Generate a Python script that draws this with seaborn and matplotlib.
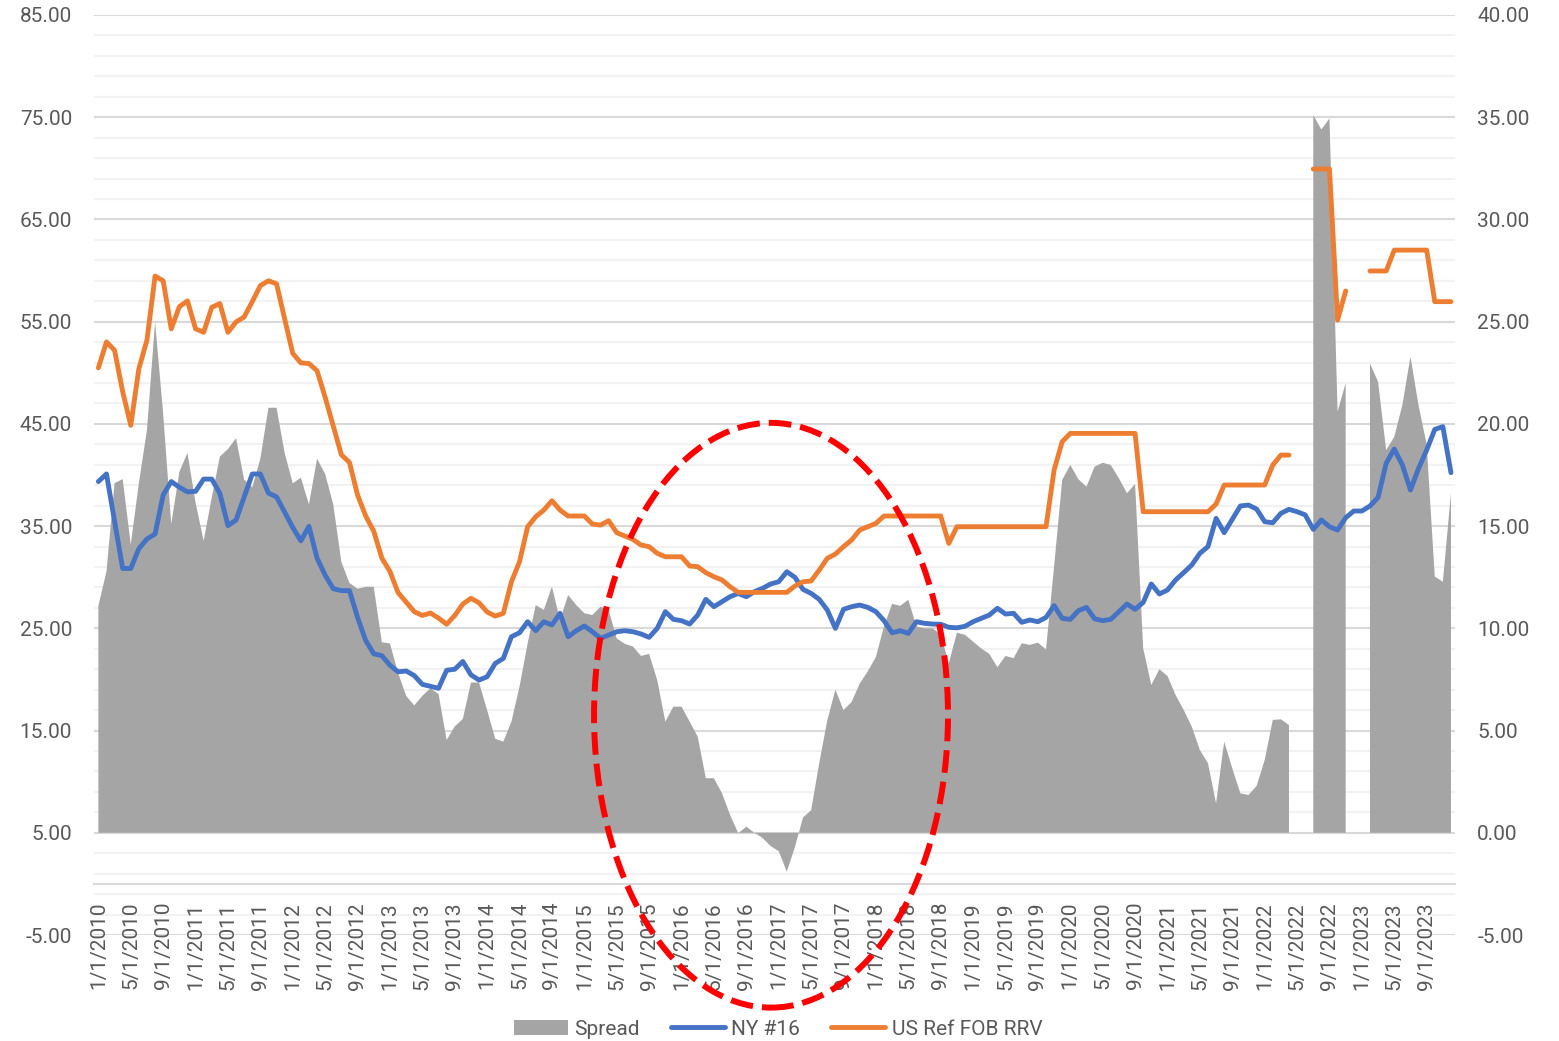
import numpy as np
import pandas as pd
import matplotlib
matplotlib.use('Agg')
import matplotlib.pyplot as plt
from matplotlib.patches import Ellipse, Patch
from matplotlib.lines import Line2D
from matplotlib.ticker import MultipleLocator, FormatStrFormatter
import seaborn as sns

# monthly categories, 1/1/2010 .. 12/1/2023
months = pd.date_range('2010-01-01', periods=168, freq='MS')
month_labels = [f'{d.month}/1/{d.year}' for d in months]

nan = np.nan

# Spread (right axis)
spread = [11.1, 12.78, 17.1, 17.3, 14.1, 17.1, 19.7, 25.0, 20.5, 15.1,
          17.65, 18.58, 16.15, 14.28, 16.4, 18.4, 18.77, 19.3, 17.27, 16.9,
          18.3, 20.79, 20.79, 18.58, 17.09, 17.37, 16.06, 18.3, 17.55, 16.06,
          13.25, 12.22, 11.94, 12.03, 12.03, 9.32, 9.26, 7.82, 6.7, 6.23,
          6.7, 7.07, 6.79, 4.54, 5.2, 5.57, 7.35, 7.35, 6.0, 4.6,
          4.46, 5.44, 7.15, 9.27, 11.14, 10.9, 12.04, 10.41, 11.63, 11.14,
          10.74, 10.65, 11.06, 10.9, 9.51, 9.24, 9.11, 8.65, 8.75, 7.47,
          5.44, 6.17, 6.17, 5.44, 4.7, 2.67, 2.67, 1.93, 0.87, -0.02,
          0.3, 0.0, -0.25, -0.65, -0.9, -1.9, -0.7, 0.75, 1.1, 3.4,
          5.5, 7.0, 6.0, 6.4, 7.3, 7.9, 8.6, 10.1, 11.2, 11.1,
          11.4, 10.1, 10.0, 10.0, 9.7, 8.29, 9.79, 9.68, 9.35, 9.02,
          8.75, 8.1, 8.65, 8.54, 9.27, 9.19, 9.3, 8.97, 13.02, 17.26,
          17.99, 17.29, 16.93, 17.91, 18.1, 17.99, 17.34, 16.61, 17.06, 9.02,
          7.23, 8.0, 7.67, 6.74, 6.01, 5.19, 4.05, 3.4, 1.44, 4.46,
          3.15, 1.93, 1.85, 2.29, 3.56, 5.52, 5.55, 5.27, nan, nan,
          35.1, 34.4, 34.94, 20.6, 22.0, nan, nan, 22.96, 22.06, 18.72,
          19.37, 20.92, 23.29, 20.9, 19.0, 12.53, 12.28, 16.61]

# NY #16 (left axis)
ny16 = [39.36, 40.1, 35.5, 30.86, 30.86, 32.8, 33.74, 34.23, 38.05, 39.36,
        38.8, 38.35, 38.4, 39.6, 39.6, 38.2, 35.05, 35.6, 37.86, 40.1,
        40.1, 38.23, 37.86, 36.36, 34.87, 33.56, 34.98, 31.87, 30.2, 28.88,
        28.69, 28.69, 26.07, 23.82, 22.51, 22.33, 21.39, 20.75, 20.83, 20.38,
        19.52, 19.33, 19.14, 20.9, 21.0, 21.76, 20.45, 19.94, 20.27, 21.57,
        22.06, 24.18, 24.57, 25.65, 24.77, 25.65, 25.33, 26.47, 24.18, 24.77,
        25.23, 24.67, 24.02, 24.35, 24.67, 24.77, 24.67, 24.45, 24.12, 25.0,
        26.63, 25.88, 25.75, 25.42, 26.3, 27.84, 27.12, 27.61, 28.1, 28.42,
        28.1, 28.59, 28.91, 29.34, 29.56, 30.54, 29.99, 28.81, 28.42, 27.84,
        26.79, 25.0, 26.86, 27.12, 27.28, 27.05, 26.63, 25.75, 24.57, 24.77,
        24.51, 25.65, 25.49, 25.42, 25.4, 25.1, 25.05, 25.2, 25.65, 25.98,
        26.3, 26.96, 26.4, 26.47, 25.59, 25.82, 25.65, 26.07, 27.22, 25.98,
        25.88, 26.73, 27.05, 25.94, 25.75, 25.88, 26.63, 27.38, 26.86, 27.54,
        29.34, 28.36, 28.75, 29.73, 30.45, 31.2, 32.34, 33.0, 35.76, 34.36,
        35.66, 36.97, 37.06, 36.67, 35.43, 35.33, 36.25, 36.64, 36.41, 36.1,
        34.68, 35.6, 34.94, 34.62, 35.82, 36.48, 36.48, 36.97, 37.81, 41.14,
        42.54, 40.98, 38.53, 40.65, 42.44, 44.46, 44.73, 40.23]

# US Ref FOB RRV (left axis)
us_ref = [50.48, 53.02, 52.2, 48.16, 44.86, 50.4, 53.2, 59.46, 59.0, 54.3,
          56.47, 57.03, 54.3, 53.96, 56.4, 56.77, 53.96, 54.97, 55.46, 56.96,
          58.53, 59.0, 58.7, 55.27, 51.9, 50.97, 50.9, 50.2, 47.6, 44.79,
          41.98, 41.23, 38.05, 36.0, 34.5, 31.87, 30.56, 28.5, 27.57, 26.63,
          26.26, 26.5, 26.0, 25.4, 26.26, 27.38, 27.94, 27.5, 26.6, 26.2,
          26.47, 29.56, 31.52, 34.94, 35.92, 36.57, 37.49, 36.57, 35.99, 35.99,
          35.99, 35.2, 35.1, 35.53, 34.36, 34.03, 33.7, 33.15, 32.99, 32.34,
          32.0, 32.0, 32.0, 31.1, 31.03, 30.45, 30.05, 29.73, 29.07, 28.52,
          28.52, 28.52, 28.52, 28.52, 28.52, 28.52, 29.14, 29.56, 29.63, 30.7,
          31.85, 32.27, 32.99, 33.64, 34.62, 34.94, 35.27, 35.99, 35.99, 35.99,
          35.99, 35.99, 35.99, 35.99, 35.99, 33.31, 34.94, 34.94, 34.94, 34.94,
          34.94, 34.94, 34.94, 34.94, 34.94, 34.94, 34.94, 34.94, 40.49, 43.26,
          44.07, 44.07, 44.07, 44.07, 44.07, 44.07, 44.07, 44.07, 44.07, 36.41,
          36.41, 36.41, 36.41, 36.41, 36.41, 36.41, 36.41, 36.41, 37.16, 39.02,
          39.02, 39.02, 39.02, 39.02, 39.02, 40.98, 41.95, 41.95, nan, nan,
          69.93, 69.93, 69.93, 55.16, 58.0, nan, nan, 59.96, 59.96, 59.96,
          62.0, 62.0, 62.0, 62.0, 62.0, 56.96, 56.96, 56.96]

GRAY = '#A5A5A5'
BLUE = '#4472C4'
ORANGE = '#ED7D31'
TXT = '#595959'

df = pd.DataFrame({'i': np.arange(len(month_labels)), 'month': month_labels,
                   'Spread': spread, 'NY #16': ny16, 'US Ref FOB RRV': us_ref})
# the orange series has holes, split it into runs so the gaps stay open
df['seg'] = df['US Ref FOB RRV'].isna().cumsum()

sns.set_style('white')
plt.rcParams['font.family'] = ['Roboto', 'DejaVu Sans']

fig = plt.figure(figsize=(15.59, 10.41), dpi=100)
ax = fig.add_axes([0.0605, 0.1018, 0.8728, 0.8838])
ax2 = ax.twinx()
ax.set_zorder(2)
ax2.set_zorder(1)
ax.patch.set_visible(False)

# area on secondary axis
ax2.fill_between(df['i'], df['Spread'], 0, color=GRAY, lw=0)

# lines on primary axis
sns.lineplot(data=df, x='i', y='NY #16', ax=ax, color=BLUE, lw=3.5,
             solid_capstyle='round', solid_joinstyle='round')
sns.lineplot(data=df.dropna(subset=['US Ref FOB RRV']), x='i', y='US Ref FOB RRV',
             units='seg', estimator=None, ax=ax, color=ORANGE, lw=3.5,
             solid_capstyle='round', solid_joinstyle='round')
if ax.get_legend():
    ax.get_legend().remove()
ax.set_xlabel('')
ax.set_ylabel('')
ax2.set_ylabel('')

# category axis crosses the left axis at 0 (set before ticks, it resets them)
for s in ['top', 'left', 'right']:
    ax.spines[s].set_visible(False)
for s in ax2.spines.values():
    s.set_visible(False)
ax.spines['bottom'].set_position(('data', 0))
ax.spines['bottom'].set_color('#D9D9D9')
ax.spines['bottom'].set_linewidth(1.5)

ax.set_xlim(-0.5, len(month_labels) - 0.5)
ax.set_ylim(-5, 85)
ax2.set_ylim(-5, 40)

ax.set_yticks(np.arange(-5, 86, 10))
ax.yaxis.set_major_formatter(FormatStrFormatter('%.2f'))
ax2.set_yticks(np.arange(-5, 41, 5))
ax2.yaxis.set_major_formatter(FormatStrFormatter('%.2f'))
ax2.yaxis.set_minor_locator(MultipleLocator(1))

# gridlines live on the back axis so the area covers them
ax.grid(False)
ax2.grid(False)
ax2.set_axisbelow(True)
ax2.yaxis.grid(True, which='major', color='#D9D9D9', lw=1.5)
ax2.yaxis.grid(True, which='minor', color='#F2F2F2', lw=1.5)

ax.set_xticks(df['i'][::4])
ax.set_xticklabels(df['month'][::4])

ax.tick_params(axis='x', length=0, pad=13, labelsize=15, labelcolor=TXT,
               labelrotation=90)
ax.tick_params(axis='y', length=0, pad=16, labelsize=15, labelcolor=TXT)
ax2.tick_params(axis='y', which='both', length=0, pad=16, labelsize=15, labelcolor=TXT)

# red dashed ellipse highlighting 2015-2018
ell = Ellipse((83.05, 16.5), width=43.7, height=57.2, transform=ax.transData,
              fill=False, ec='#FF0000', lw=4.3, ls=(0, (3.8, 1.5)),
              clip_on=False, zorder=5)
ax.add_patch(ell)

handles = [Patch(facecolor=GRAY, edgecolor='none'),
           Line2D([], [], color=BLUE, lw=3.5, solid_capstyle='round'),
           Line2D([], [], color=ORANGE, lw=3.5, solid_capstyle='round')]
fig.legend(handles, ['Spread', 'NY #16', 'US Ref FOB RRV'], loc='center',
           bbox_to_anchor=(0.499, 0.0115), ncol=3, frameon=False, fontsize=15,
           handlelength=2.6, handletextpad=0.3, columnspacing=1.5,
           labelcolor=TXT)

fig.savefig('out.png', dpi=100)
